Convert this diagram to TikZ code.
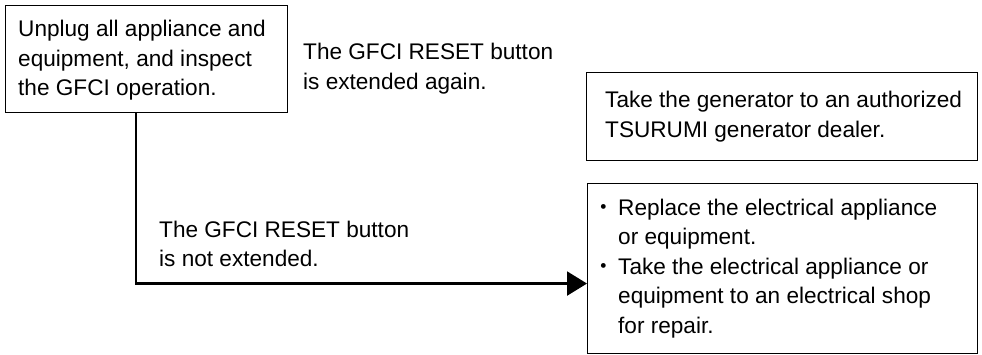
\documentclass[tikz,border=0pt]{standalone}
\usepackage{fontspec}
\setmainfont{Liberation Sans}
\newfontfamily\cjk{Noto Sans CJK JP}
\usetikzlibrary{arrows.meta}
\newcommand{\blocktext}[1]{\parbox[t]{400pt}{\raggedright\fontsize{22.6}{29.5}\selectfont #1}}
\begin{document}
\begin{tikzpicture}[x=1pt,y=-1pt,
  box/.style={draw=black, line width=1.1pt, fill=white, anchor=north west, inner sep=0pt},
  txt/.style={anchor=base west, inner sep=0pt, text=black},
  conn/.style={draw=black, line width=2.2pt, -{Triangle[length=20pt,width=24pt]}}]
\useasboundingbox (0,0) rectangle (982,355);
% boxes
\node[box, minimum width=282pt, minimum height=107pt] (b1) at (5,5) {};
\node[box, minimum width=391pt, minimum height=88pt] (b2) at (586,72) {};
\node[box, minimum width=390pt, minimum height=170pt] (b3) at (587,183) {};
% texts inside boxes
\node[txt] (t1) at (18,37) {\blocktext{Unplug all appliance and\\equipment, and inspect\\the GFCI operation.}};
\node[txt] (t2) at (605,108) {\blocktext{Take the generator to an authorized\\TSURUMI generator dealer.}};
\node[txt] (t3) at (592,215.5) {\blocktext{\makebox[26pt][l]{\cjk ・}Replace the electrical appliance\\\hspace*{26pt}or equipment.\\\makebox[26pt][l]{\cjk ・}Take the electrical appliance or\\\hspace*{26pt}equipment to an electrical shop\\\hspace*{26pt}for repair.}};
% labels
\node[txt] (l1) at (303,60) {\blocktext{The GFCI RESET button\\is extended again.}};
\node[txt] (l2) at (159,237.5) {\blocktext{The GFCI RESET button\\is not extended.}};
% connector
\draw[conn] ([xshift=131pt]b1.south west) |- ([yshift=-15pt]b3.west);
\end{tikzpicture}
\end{document}
